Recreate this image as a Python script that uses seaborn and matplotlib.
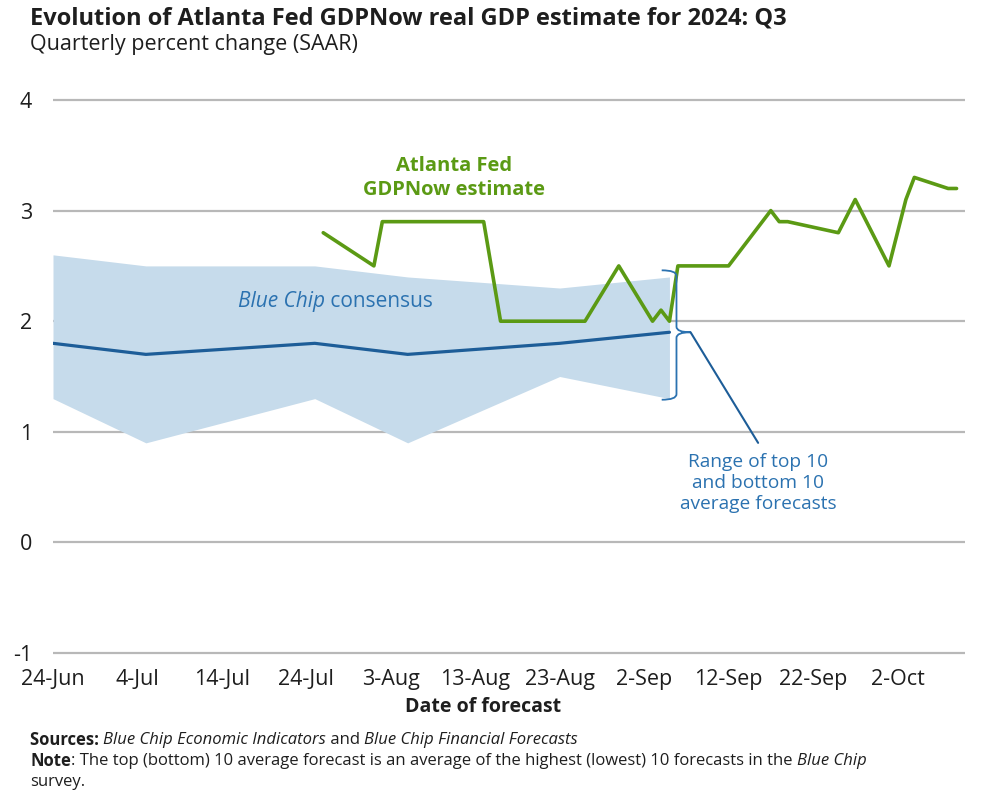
import numpy as np
import pandas as pd
import matplotlib
matplotlib.use('Agg')
import matplotlib.pyplot as plt
import matplotlib.dates as mdates
from matplotlib.path import Path
from matplotlib.patches import PathPatch
import seaborn as sns

# data
gdp_dates = ['2024-07-26', '2024-08-01', '2024-08-02', '2024-08-14', '2024-08-16',
             '2024-08-26', '2024-08-30', '2024-09-03', '2024-09-04', '2024-09-05',
             '2024-09-06', '2024-09-12', '2024-09-17', '2024-09-18', '2024-09-19',
             '2024-09-25', '2024-09-27', '2024-10-01', '2024-10-03', '2024-10-04',
             '2024-10-08', '2024-10-09']
gdp_vals = [2.8, 2.5, 2.9, 2.9, 2.0, 2.0, 2.5, 2.0, 2.1, 2.0, 2.5, 2.5,
            3.0, 2.9, 2.9, 2.8, 3.1, 2.5, 3.1, 3.3, 3.2, 3.2]

bc_dates = ['2024-06-24', '2024-07-05', '2024-07-25', '2024-08-05', '2024-08-23', '2024-09-05']
bc_consensus = [1.8, 1.7, 1.8, 1.7, 1.8, 1.9]
bc_top10 = [2.6, 2.5, 2.5, 2.4, 2.3, 2.4]
bc_bottom10 = [1.3, 0.9, 1.3, 0.9, 1.5, 1.3]

tick_dates = ['2024-06-24', '2024-07-04', '2024-07-14', '2024-07-24', '2024-08-03', '2024-08-13',
              '2024-08-23', '2024-09-02', '2024-09-12', '2024-09-22', '2024-10-02']
tick_labels = ['24-Jun', '4-Jul', '14-Jul', '24-Jul', '3-Aug', '13-Aug',
               '23-Aug', '2-Sep', '12-Sep', '22-Sep', '2-Oct']
y_ticks = [-1, 0, 1, 2, 3, 4]

GREEN = '#5b9a14'
DARKBLUE = '#1d5d98'
BAND = '#c6dbeb'
TXTBLUE = '#2b72b0'
GRID = '#b8b8b8'
INK = '#1e1e1e'

sns.set_style('white')
plt.rcParams['font.family'] = ['Open Sans', 'DejaVu Sans']

gdp = pd.DataFrame({'date': pd.to_datetime(gdp_dates), 'value': gdp_vals})
bc = pd.DataFrame({'date': pd.to_datetime(bc_dates), 'cons': bc_consensus,
                   'top': bc_top10, 'bot': bc_bottom10})

W, H = 1001, 800
fig = plt.figure(figsize=(W / 100, H / 100), dpi=100)
# axes placed so that 24-Jun sits at x=53px, 4 at y=100px and -1 at y=653px
pad = 0.02
ppu = 553 / 5
ax = fig.add_axes([53 / W, 1 - (653 + pad * ppu) / H, (965 - 53) / W, (553 + 2 * pad * ppu) / H])

ax.fill_between(bc['date'], bc['bot'], bc['top'], color=BAND, lw=0, zorder=1)
sns.lineplot(data=bc, x='date', y='cons', ax=ax, color=DARKBLUE, lw=2.3, zorder=3)
sns.lineplot(data=gdp, x='date', y='value', ax=ax, color=GREEN, lw=2.6, zorder=4)

ax.set_xlim(pd.Timestamp('2024-06-24'), pd.Timestamp('2024-10-10'))
ax.set_ylim(-1 - pad, 4 + pad)
ax.set_yticks(y_ticks)
ax.set_yticklabels([str(v) for v in y_ticks])
ax.set_xticks(pd.to_datetime(tick_dates))
ax.set_xticklabels(tick_labels)
ax.grid(axis='y', color=GRID, lw=1.6, zorder=0)
ax.grid(axis='x', visible=False)
ax.set_axisbelow(True)
for s in ax.spines.values():
    s.set_visible(False)
ax.tick_params(axis='x', length=5, width=1.2, color=GRID, pad=5, labelsize=15.5, labelcolor=INK)
ax.tick_params(axis='y', length=0, pad=15, labelsize=15.5, labelcolor=INK)
ax.set_xlabel('')
ax.set_ylabel('')


def dn(s):
    return mdates.date2num(pd.Timestamp(s))


# curly brace marking the top-10 / bottom-10 range
x0, x1, x2 = dn('2024-09-04 02:00'), dn('2024-09-05 20:00'), dn('2024-09-07 12:00')
ytop, ymid, ybot = 2.46, 1.9, 1.29
c = 0.05
verts = [(x0, ytop), (x1, ytop), (x1, ytop - c),
         (x1, ymid + c), (x1, ymid), (x2, ymid),
         (x1, ymid), (x1, ymid - c),
         (x1, ybot + c), (x1, ybot), (x0, ybot)]
codes = [Path.MOVETO, Path.CURVE3, Path.CURVE3,
         Path.LINETO, Path.CURVE3, Path.CURVE3,
         Path.CURVE3, Path.CURVE3,
         Path.LINETO, Path.CURVE3, Path.CURVE3]
ax.add_patch(PathPatch(Path(verts, codes), fill=False, edgecolor=TXTBLUE, lw=1.3, zorder=5))
ax.plot([x2, dn('2024-09-15 12:00')], [ymid, 0.90], color=DARKBLUE, lw=1.5, zorder=5)
ax.text(dn('2024-09-15 12:00'), 0.535,
        'Range of top 10\nand bottom 10\naverage forecasts', ha='center', va='center',
        color=TXTBLUE, fontsize=13.8, linespacing=1.2)
ax.text(dn('2024-08-10 12:00'), 3.1,
        'Atlanta Fed\nGDPNow estimate', ha='center', va='bottom', color=GREEN,
        fontsize=14.5, fontweight='bold', linespacing=1.25)

renderer = fig.canvas.get_renderer()


def runs(x, y, parts, **kw):
    # draw text pieces one after another with their own style
    for s, style, weight in parts:
        t = fig.text(x, y, s, fontstyle=style, fontweight=weight, **kw)
        bb = t.get_window_extent(renderer=renderer)
        x += bb.width / W


runs(238 / W, 1 - 302 / H, [('Blue Chip', 'italic', 'normal'), (' consensus', 'normal', 'normal')],
     color=TXTBLUE, fontsize=15, va='center')

fig.text(30 / W, 1 - 25 / H, 'Evolution of Atlanta Fed GDPNow real GDP estimate for 2024: Q3',
         fontsize=17, fontweight='bold', color=INK, va='baseline')
fig.text(30 / W, 1 - 50 / H, 'Quarterly percent change (SAAR)', fontsize=15.5, color=INK, va='baseline')
fig.text(483 / W, 1 - 707 / H, 'Date of forecast', fontsize=14, fontweight='bold',
         color=INK, ha='center', va='center')

foot = dict(color=INK, fontsize=12, va='center')
runs(30 / W, 1 - 740 / H, [('Sources: ', 'normal', 'bold'),
                           ('Blue Chip Economic Indicators', 'italic', 'normal'),
                           (' and ', 'normal', 'normal'),
                           ('Blue Chip Financial Forecasts', 'italic', 'normal')], **foot)
runs(30 / W, 1 - 761 / H, [('Note', 'normal', 'bold'),
                           (': The top (bottom) 10 average forecast is an average of the highest '
                            '(lowest) 10 forecasts in the ', 'normal', 'normal'),
                           ('Blue Chip', 'italic', 'normal')], **foot)
fig.text(30 / W, 1 - 782 / H, 'survey.', **foot)

fig.savefig('out.png', dpi=100)
